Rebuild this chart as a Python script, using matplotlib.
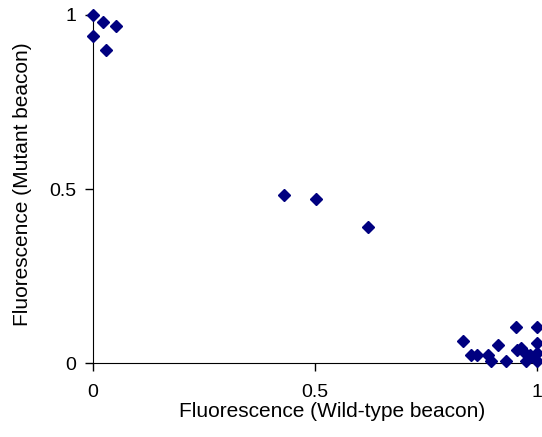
import matplotlib
matplotlib.use("Agg")
import matplotlib.pyplot as plt

plt.rcParams['font.family'] = ['Liberation Sans', 'DejaVu Sans']

# wild-type beacon fluorescence (x) vs mutant beacon fluorescence (y)
wild_type = [0.0, 0.023, 0.052, 0.0, 0.029,
             0.430, 0.502, 0.619,
             0.833, 0.851, 0.865, 0.890, 0.897, 0.912, 0.930,
             0.953, 0.955, 0.964, 0.971, 0.975, 0.984,
             1.0, 1.0, 1.0, 1.0]
mutant = [1.0, 0.98, 0.967, 0.94, 0.90,
          0.483, 0.471, 0.391,
          0.063, 0.023, 0.023, 0.023, 0.006, 0.052, 0.006,
          0.103, 0.037, 0.043, 0.032, 0.006, 0.023,
          0.103, 0.057, 0.029, 0.006]

fig = plt.figure(figsize=(5.42, 4.37), dpi=100)
ax = fig.add_axes([0.1716, 0.169, 0.8192, 0.797])

ax.plot(wild_type, mutant, linestyle='none', marker='D', markersize=6,
        color='#000080', clip_on=False, zorder=3)

ax.set_xlim(0, 1)
ax.set_ylim(0, 1)
ax.set_xticks([0, 0.5, 1])
ax.set_yticks([0, 0.5, 1])
ax.set_xticklabels(['0', '0.5', '1'])
ax.set_yticklabels(['0', '0.5', '1'])
ax.tick_params(direction='out', length=5.8, width=1, labelsize=14)
ax.tick_params(axis='x', pad=9)
ax.tick_params(axis='y', pad=6.5)

ax.spines['top'].set_visible(False)
ax.spines['right'].set_visible(False)

ax.set_xlabel('Fluorescence (Wild-type beacon)', fontsize=15)
ax.set_ylabel('Fluorescence (Mutant beacon)', fontsize=15)
ax.xaxis.set_label_coords(0.538, -0.112)
ax.yaxis.set_label_coords(-0.137, 0.513)

plt.savefig('out.png', dpi=100)
